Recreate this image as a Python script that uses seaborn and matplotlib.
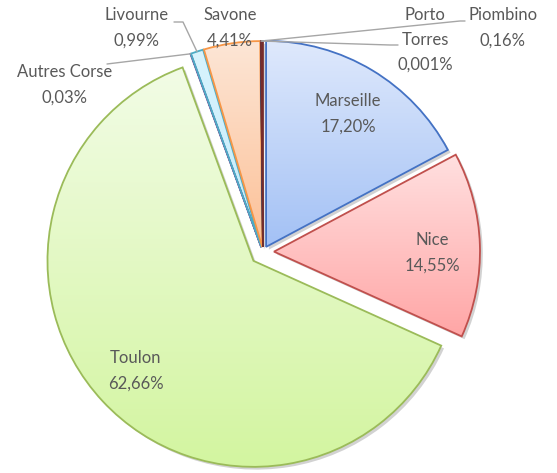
import numpy as np
import matplotlib.pyplot as plt
import matplotlib.patheffects as pe
from matplotlib.patches import Wedge
import seaborn as sns

# Data
ports = ["Marseille", "Nice", "Toulon", "Autres Corse", "Livourne", "Savone", "Porto Torres", "Piombino"]
shares = [17.20, 14.55, 62.66, 0.03, 0.99, 4.41, 0.001, 0.16]
pct_text = ["17,20%", "14,55%", "62,66%", "0,03%", "0,99%", "4,41%", "0,001%", "0,16%"]
label_text = ["Marseille", "Nice", "Toulon", "Autres Corse", "Livourne", "Savone", "Porto\nTorres", "Piombino"]

# Styling
edge_colors = ["#4472c4", "#c0504d", "#9bbb59", "#8064a2", "#4bacc6", "#f79646", "#2c4d75", "#772c2a"]
top_colors = ["#dfe9fc", "#ffe0e0", "#f2fce6", "#e0d8f0", "#d8f3fd", "#fde6d6", "#2c4d75", "#772c2a"]
bottom_colors = ["#a3c1f5", "#ffa6a6", "#d3f5a0", "#c4b4e0", "#c4ecfb", "#fcc096", "#2c4d75", "#772c2a"]
explode = [6, 11, 13, 5, 5, 5, 5, 5]

# label positions in pixels (x, y from top)
label_pos = {
    "Marseille": (348, 114), "Nice": (432, 253), "Toulon": (136, 371),
    "Autres Corse": (65, 85), "Livourne": (137, 28), "Savone": (230, 28),
    "Porto Torres": (425, 40), "Piombino": (503, 28),
}
# leader line bends (pixels)
leader_pts = {
    "Autres Corse": [(107, 64)],
    "Livourne": [(183, 22), (174, 22)],
    "Porto Torres": [(390, 45), (398, 45)],
    "Piombino": [(460, 21), (465, 21)],
}

sns.set_style("white")
plt.rcParams['font.family'] = ['Lato', 'DejaVu Sans']

W, H = 557, 473
fig = plt.figure(figsize=(W / 100, H / 100), dpi=100)
ax = fig.add_axes([0, 0, 1, 1])

cx, cy, R = 263, H - 252, 206
shadow = [pe.SimplePatchShadow(offset=(2, -2), shadow_rgbFace="#808080", alpha=0.35), pe.Normal()]

wedges, _ = ax.pie(shares, colors=top_colors, explode=explode, startangle=90, counterclock=False,
                   center=(cx, cy), radius=R, wedgeprops=dict(linewidth=0, zorder=1))

for i, w in enumerate(wedges):
    w.set_path_effects(shadow)
    # vertical gradient fill clipped to the slice
    if top_colors[i] != bottom_colors[i]:
        ext = w.get_path().get_extents()
        cmap = sns.blend_palette([top_colors[i], bottom_colors[i]], as_cmap=True)
        grad = np.linspace(0, 1, 256).reshape(-1, 1)
        im = ax.imshow(grad, cmap=cmap, extent=(ext.x0, ext.x1, ext.y0, ext.y1), origin="upper",
                       aspect="auto", zorder=2, interpolation="bilinear")
        im.set_clip_path(w)
    ax.add_patch(Wedge(w.center, w.r, w.theta1, w.theta2, fill=False,
                       edgecolor=edge_colors[i], linewidth=1.3, zorder=3))

txt_color = "#595959"
for i, p in enumerate(ports):
    x, y = label_pos[p]
    ax.text(x, H - y, label_text[i] + "\n" + pct_text[i], ha="center", va="center",
            fontsize=12, color=txt_color, linespacing=1.7, zorder=5)
    if p in leader_pts:
        w = wedges[i]
        tm = np.deg2rad((w.theta1 + w.theta2) / 2)
        px = w.center[0] + w.r * np.cos(tm)
        py = w.center[1] + w.r * np.sin(tm)
        xs = [px] + [q[0] for q in leader_pts[p]]
        ys = [py] + [H - q[1] for q in leader_pts[p]]
        ax.plot(xs, ys, color="#a6a6a6", linewidth=1, zorder=4)

ax.set_xlim(0, W)
ax.set_ylim(0, H)
ax.set_aspect("equal")
ax.axis("off")

fig.savefig("out.png", dpi=100)
